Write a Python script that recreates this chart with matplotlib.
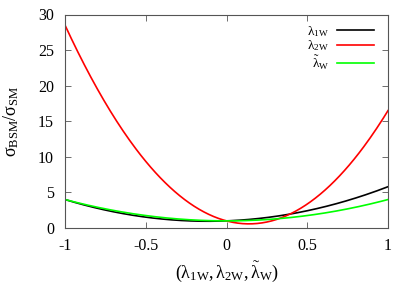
import numpy as np
import matplotlib
matplotlib.use("Agg")
import matplotlib.pyplot as plt

plt.rcParams['font.family'] = ['Liberation Serif', 'DejaVu Serif']
plt.rcParams['mathtext.fontset'] = 'custom'
plt.rcParams['mathtext.rm'] = 'Liberation Serif'
plt.rcParams['mathtext.it'] = 'Liberation Serif:italic'
plt.rcParams['mathtext.bf'] = 'Liberation Serif:bold'

# ---------- data ----------
lam = [-1.0, -0.9, -0.8, -0.7, -0.6, -0.5, -0.4, -0.3, -0.2, -0.1, 0.0,
       0.1, 0.2, 0.3, 0.4, 0.5, 0.6, 0.7, 0.8, 0.9, 1.0]
sig_1w = [4.0, 3.35, 2.78, 2.28, 1.86, 1.53, 1.26, 1.08, 0.98, 0.95, 1.0,
          1.13, 1.34, 1.62, 1.98, 2.43, 2.94, 3.54, 4.22, 4.97, 5.8]
sig_2w = [28.5, 23.8, 19.6, 15.7, 12.3, 9.4, 6.8, 4.7, 3.1, 1.8, 1.0,
          0.6, 0.66, 1.14, 2.04, 3.4, 5.1, 7.3, 9.96, 13.0, 16.5]
sig_w = [4.0, 3.43, 2.92, 2.47, 2.08, 1.75, 1.48, 1.27, 1.12, 1.03, 1.0,
         1.03, 1.12, 1.27, 1.48, 1.75, 2.08, 2.47, 2.92, 3.43, 4.0]

labels = [r'$\mathrm{λ}_{\mathrm{1W}}$', r'$\mathrm{λ}_{\mathrm{2W}}$', r'$\tilde{\mathrm{λ}}_{\mathrm{W}}$']
colors = ['black', '#ff0000', '#00ff00']

# smooth curves through the read points
x_fine = np.linspace(-1, 1, 201)

fig = plt.figure(figsize=(4.15, 2.91), dpi=100)
ax = fig.add_axes([65/415, 1 - 228/291, (388-65)/415, (228-14.5)/291])

for ys, lab, c in zip([sig_1w, sig_2w, sig_w], labels, colors):
    coef = np.polyfit(lam, ys, 4)
    ax.plot(x_fine, np.polyval(coef, x_fine), color=c, lw=1.2, label=lab)

ax.set_xlim(-1, 1)
ax.set_ylim(0, 30)
ax.set_xticks([-1, -0.5, 0, 0.5, 1])
ax.set_xticklabels(['-1', '-0.5', '0', '0.5', '1'])
ax.set_yticks([0, 5, 10, 15, 20, 25, 30])
ax.tick_params(direction='in', top=True, right=True, labelsize=11.5, length=4, width=0.6, color='#555555')
ax.tick_params(axis='x', pad=7)
ax.tick_params(axis='y', pad=8)
for s in ax.spines.values():
    s.set_color('#555555')
    s.set_linewidth(0.8)

ax.set_xlabel(r'$(\mathrm{λ}_{\mathrm{1W}},\mathrm{λ}_{\mathrm{2W}},\tilde{\mathrm{λ}}_{\mathrm{W}})$', fontsize=13, labelpad=4)
ax.set_ylabel(r'$\mathrm{σ}_{\mathrm{BSM}}/\mathrm{σ}_{\mathrm{SM}}$', fontsize=13, labelpad=12)

ax.legend(loc='upper right', frameon=False, markerfirst=False, fontsize=9.5,
          handlelength=2.8, labelspacing=0.0, borderaxespad=0.3, handletextpad=0.6,
          bbox_to_anchor=(0.985, 1.0))

fig.savefig('out.png', dpi=100)
